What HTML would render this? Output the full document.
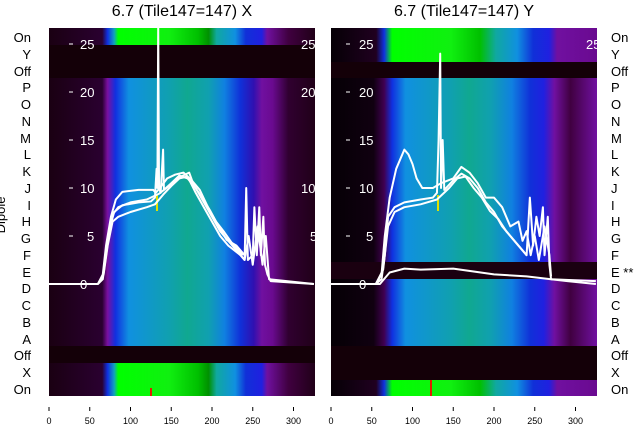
<!DOCTYPE html>
<html><head><meta charset="utf-8"><style>
body{margin:0;background:#fff;}
svg{display:block;font-family:"Liberation Sans","DejaVu Sans",sans-serif;}
</style></head><body>
<svg width="640" height="440" viewBox="0 0 640 440" xmlns="http://www.w3.org/2000/svg">
<defs>
<linearGradient id="gL" gradientUnits="userSpaceOnUse" x1="49" x2="315" y1="0" y2="0">
<stop offset="0" stop-color="#1a0012"/><stop offset="0.2" stop-color="#2a0030"/>
<stop offset="0.22" stop-color="#7a10a0"/><stop offset="0.25" stop-color="#1030e0"/>
<stop offset="0.3" stop-color="#1090e0"/><stop offset="0.45" stop-color="#10a0b0"/>
<stop offset="0.52" stop-color="#10a890"/><stop offset="0.6" stop-color="#10a0b0"/>
<stop offset="0.66" stop-color="#1080e0"/><stop offset="0.72" stop-color="#1030d8"/>
<stop offset="0.77" stop-color="#3010b0"/><stop offset="0.8" stop-color="#7010a0"/>
<stop offset="0.84" stop-color="#6a0a90"/><stop offset="0.9" stop-color="#300030"/>
<stop offset="1" stop-color="#200018"/></linearGradient>
<linearGradient id="gG" gradientUnits="userSpaceOnUse" x1="49" x2="315" y1="0" y2="0">
<stop offset="0" stop-color="#1a0012"/><stop offset="0.2" stop-color="#2a0030"/>
<stop offset="0.22" stop-color="#1030e0"/><stop offset="0.245" stop-color="#10a0c0"/>
<stop offset="0.26" stop-color="#00ff00"/><stop offset="0.45" stop-color="#10f010"/>
<stop offset="0.56" stop-color="#00c000"/><stop offset="0.6" stop-color="#009000"/>
<stop offset="0.63" stop-color="#10a8a0"/><stop offset="0.7" stop-color="#1090e0"/>
<stop offset="0.74" stop-color="#1030d8"/><stop offset="0.8" stop-color="#2020e0"/>
<stop offset="0.82" stop-color="#7010a0"/><stop offset="0.9" stop-color="#400040"/>
<stop offset="1" stop-color="#200018"/></linearGradient>
<linearGradient id="gR" gradientUnits="userSpaceOnUse" x1="331" x2="597" y1="0" y2="0">
<stop offset="0" stop-color="#050005"/><stop offset="0.16" stop-color="#100010"/>
<stop offset="0.2" stop-color="#400050"/><stop offset="0.23" stop-color="#1030e0"/>
<stop offset="0.28" stop-color="#1090e0"/><stop offset="0.45" stop-color="#10a0b0"/>
<stop offset="0.52" stop-color="#10a890"/><stop offset="0.6" stop-color="#10a0b0"/>
<stop offset="0.68" stop-color="#1080e0"/><stop offset="0.75" stop-color="#1030d8"/>
<stop offset="0.8" stop-color="#2020e0"/><stop offset="0.84" stop-color="#7010a0"/>
<stop offset="0.9" stop-color="#400040"/><stop offset="1" stop-color="#7010a0"/></linearGradient>
<linearGradient id="gRG" gradientUnits="userSpaceOnUse" x1="331" x2="597" y1="0" y2="0">
<stop offset="0" stop-color="#050005"/><stop offset="0.17" stop-color="#200020"/>
<stop offset="0.2" stop-color="#1030e0"/><stop offset="0.23" stop-color="#00ff00"/>
<stop offset="0.45" stop-color="#10f010"/><stop offset="0.56" stop-color="#00c000"/>
<stop offset="0.62" stop-color="#10a8a0"/><stop offset="0.7" stop-color="#1090e0"/>
<stop offset="0.76" stop-color="#1030d8"/><stop offset="0.82" stop-color="#2020e0"/>
<stop offset="0.85" stop-color="#7010a0"/><stop offset="1" stop-color="#6a0a90"/></linearGradient>
</defs>

<!-- Left panel -->
<rect x="49" y="28" width="266" height="17" fill="url(#gG)"/>
<rect x="49" y="45" width="266" height="33" fill="#140008"/>
<rect x="49" y="78" width="266" height="268" fill="url(#gL)"/>
<rect x="49" y="346" width="266" height="17" fill="#140008"/>
<rect x="49" y="363" width="266" height="33" fill="url(#gG)"/>
<rect x="150" y="388" width="2" height="8" fill="#e02000"/>
<rect x="156" y="195" width="2" height="16" fill="#e0e000"/>

<!-- Right panel -->
<rect x="331" y="28" width="266" height="34" fill="url(#gRG)"/>
<rect x="331" y="62" width="266" height="16" fill="#140008"/>
<rect x="331" y="78" width="266" height="184" fill="url(#gR)"/>
<rect x="331" y="262" width="266" height="17" fill="#1a0010"/>
<rect x="331" y="279" width="266" height="67" fill="url(#gR)"/>
<rect x="331" y="346" width="266" height="34" fill="#140008"/>
<rect x="331" y="380" width="266" height="16" fill="url(#gRG)"/>
<rect x="430" y="380" width="2" height="16" fill="#e02000"/>
<rect x="437" y="195" width="2" height="16" fill="#e0e000"/>

<g fill="#fff" font-size="13">
<text x="80" y="49">25</text><text x="80" y="97">20</text><text x="80" y="145">15</text><text x="80" y="193">10</text><text x="87" y="241">5</text><text x="80" y="289">0</text>
<text x="359" y="49">25</text><text x="359" y="97">20</text><text x="359" y="145">15</text><text x="359" y="193">10</text><text x="366" y="241">5</text><text x="359" y="289">0</text>
<text x="301" y="49">25</text><text x="301" y="97">20</text><text x="301" y="193">10</text><text x="310" y="241">5</text>
<text x="586" y="49">25</text>
</g>
<g stroke="#fff" stroke-width="1"><path d="M69 44h4M69 92h4M69 140h4M69 188h4M69 236h4M346 44h4M346 92h4M346 140h4M346 188h4M346 236h4"/></g>

<g transform="translate(49,284) scale(0.815,-9.6)" fill="none" stroke="#fff" stroke-width="2" vector-effect="non-scaling-stroke" stroke-linejoin="round">
<polyline vector-effect="non-scaling-stroke" points="0,0 60,0 66,0.5 70,3 75,6 80,7.5 90,8.2 110,8.5 125,8.6 130,9 132,12 133,10 134,27 135,10 137,9.5 140,14 141,9.8 150,10.5 160,11.3 170,11 180,10 190,8.5 200,7 210,5.5 220,4.5 230,3.5 240,2.5 242,10 244,2.5 250,3 252,8 255,3 258,8 260,3 263,7 265,2 268,1 272,0.3 290,0.2 325,0"/>
<polyline vector-effect="non-scaling-stroke" points="60,0 67,1 72,4 78,6.5 85,7 100,7.5 120,8 130,8.3 140,9.3 150,10.2 160,11 170,11.2 180,9.5 190,8 200,6.5 210,5 220,4 235,3 240,2.5 245,5 250,2 256,6 262,2 266,5 270,0.5 325,0"/>
<polyline vector-effect="non-scaling-stroke" points="60,0 66,1 70,4 76,7 82,8.8 90,9.6 110,9.8 128,9.8 131,9.5 136,10 145,11 155,11.4 165,11.6 175,10.8 185,9.8 195,8 205,6.5 215,5.4 225,4.2 238,3"/>
<polyline vector-effect="non-scaling-stroke" points="76,7 85,8 100,8.5 120,8.8 135,9.4 150,10.4 162,11.2 172,11.6 178,10.2 188,9 198,7.6 208,6 218,4.6 230,4 240,3"/>
</g>

<g transform="translate(331,284) scale(0.815,-9.6)" fill="none" stroke="#fff" stroke-width="2" stroke-linejoin="round">
<polyline vector-effect="non-scaling-stroke" points="0,0 55,0 62,0.5 66,3 70,7 78,8 90,8.5 110,8.8 125,9 130,9.5 132,15 134,24 135,10 137,15 139,9.8 150,10.8 160,11.5 170,11 180,10 190,8.5 200,7.5 210,6 220,5 230,4 240,3 244,9 248,4 252,7 256,5 260,8 262,3 266,7 268,2 270,0.5 290,0.3 325,0"/>
<polyline vector-effect="non-scaling-stroke" points="55,0 62,1 66,5 72,9 80,12 90,14 95,13.5 100,12.5 105,11 112,10 125,10 135,10.5 150,11 160,12.2 170,11.6 180,10.5 190,9 200,9 210,8 220,6 230,6.5 235,4.5 240,5.5 245,3 250,5 255,2.5 262,6 268,3 270,0.8"/>
<polyline vector-effect="non-scaling-stroke" points="55,0 64,1.5 70,6 78,7.5 90,8 110,8.3 130,8.8 145,10 155,11 165,11.2 175,10 185,9 195,7.6 205,6.8 215,5.5 228,4.2 240,3"/>
<polyline vector-effect="non-scaling-stroke" points="0,0 60,0 66,0.6 72,1.2 90,1.6 110,1.5 150,1.6 200,1 240,0.8 270,0.5 325,0.3"/>
</g>

<g font-size="13" fill="#000" text-anchor="end">
<text x="31" y="42">On</text><text x="31" y="59">Y</text><text x="31" y="76">Off</text><text x="31" y="92">P</text><text x="31" y="109">O</text><text x="31" y="126">N</text><text x="31" y="143">M</text><text x="31" y="159">L</text><text x="31" y="176">K</text><text x="31" y="193">J</text><text x="31" y="210">I</text><text x="31" y="226">H</text><text x="31" y="243">G</text><text x="31" y="260">F</text><text x="31" y="277">E</text><text x="31" y="293">D</text><text x="31" y="310">C</text><text x="31" y="327">B</text><text x="31" y="344">A</text><text x="31" y="360">Off</text><text x="31" y="377">X</text><text x="31" y="394">On</text>
</g>
<g font-size="13" fill="#000">
<text x="611" y="42">On</text><text x="611" y="59">Y</text><text x="611" y="76">Off</text><text x="611" y="92">P</text><text x="611" y="109">O</text><text x="611" y="126">N</text><text x="611" y="143">M</text><text x="611" y="159">L</text><text x="611" y="176">K</text><text x="611" y="193">J</text><text x="611" y="210">I</text><text x="611" y="226">H</text><text x="611" y="243">G</text><text x="611" y="260">F</text><text x="611" y="277">E **</text><text x="611" y="293">D</text><text x="611" y="310">C</text><text x="611" y="327">B</text><text x="611" y="344">A</text><text x="611" y="360">Off</text><text x="611" y="377">X</text><text x="611" y="394">On</text>
</g>
<text x="5" y="215" font-size="13" transform="rotate(-90 5 215)" text-anchor="middle">Dipole</text>
<g font-size="16" text-anchor="middle"><text x="182" y="16">6.7 (Tile147=147) X</text><text x="464" y="16">6.7 (Tile147=147) Y</text></g>
<g stroke="#000" stroke-width="1"><path d="M49 407v4M89.75 407v4M130.5 407v4M171.25 407v4M212 407v4M252.75 407v4M293.5 407v4M331 407v4M371.75 407v4M412.5 407v4M453.25 407v4M494 407v4M534.75 407v4M575.5 407v4"/></g>
<g font-size="9" text-anchor="middle">
<text x="49" y="424">0</text><text x="89.75" y="424">50</text><text x="130.5" y="424">100</text><text x="171.25" y="424">150</text><text x="212" y="424">200</text><text x="252.75" y="424">250</text><text x="293.5" y="424">300</text>
<text x="331" y="424">0</text><text x="371.75" y="424">50</text><text x="412.5" y="424">100</text><text x="453.25" y="424">150</text><text x="494" y="424">200</text><text x="534.75" y="424">250</text><text x="575.5" y="424">300</text>
</g>
</svg>
</body></html>
